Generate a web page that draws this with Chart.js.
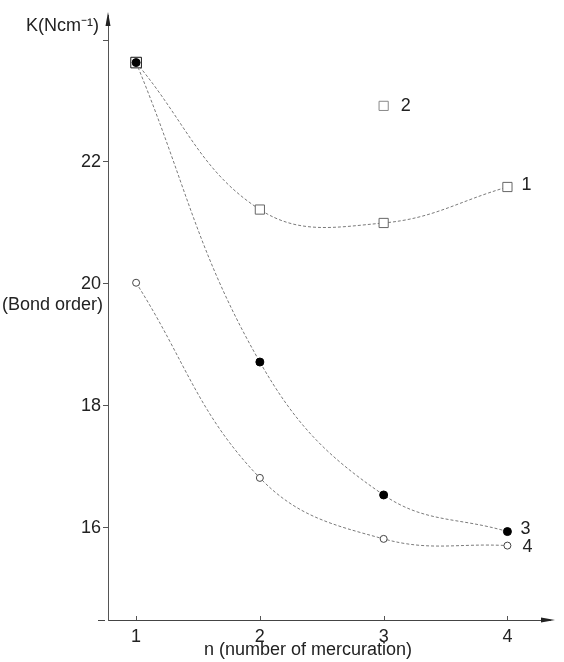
<!DOCTYPE html>
<html>
<head>
<meta charset="utf-8">
<script src="https://cdn.jsdelivr.net/npm/chart.js@4.4.0/dist/chart.umd.min.js"></script>
<style>
  html, body { margin: 0; padding: 0; background: #fff; }
  #wrap { width: 564px; height: 662px; position: relative; }
</style>
</head>
<body>
<div id="wrap"><canvas id="chart"></canvas></div>
<script>
// n (number of mercuration)
const nValues = [1, 2, 3, 4];
// K (N cm-1)
const curve1 = [23.63, 21.22, 21.0, 21.59];
const curve2 = [null, null, 22.92, null];
const curve3 = [23.63, 18.72, 16.54, 15.94];
const curve4 = [20.02, 16.82, 15.82, 15.71];
const curveNames = ['1', '2', '3', '4'];

const xTicks = [1, 2, 3, 4];
const yTicks = [16, 18, 20, 22, 24];
const yTickLabels = ['16', '18', '20', '22', ''];

const ink = '#222';
const lineGrey = '#7a7a7a';
const font = {family: "'Liberation Sans', Arial, sans-serif", size: 18};

function pts(values) {
    return nValues.map((n, i) => ({x: n, y: values[i]})).filter(p => p.y !== null);
}

const labelOffsets = [[14, -2], [17, 0], [13, -3], [15, 1]];

const decorations = {
    id: 'decorations',
    afterDatasetsDraw(chart) {
        const ctx = chart.ctx;
        const xs = chart.scales.x, ys = chart.scales.y;
        const area = chart.chartArea;
        const axisX = area.left;
        const axisY = ys.getPixelForValue(14.49);
        ctx.save();
        ctx.fillStyle = ink;
        ctx.strokeStyle = '#444';
        ctx.lineWidth = 1;
        // n axis runs a little past the K axis on the left
        ctx.setLineDash([7, 3]);
        ctx.beginPath();
        ctx.moveTo(axisX - 10, Math.round(axisY) + 0.5);
        ctx.lineTo(axisX, Math.round(axisY) + 0.5);
        ctx.stroke();
        ctx.setLineDash([]);

        // arrow heads
        ctx.beginPath();
        ctx.moveTo(axisX, area.top - 3);
        ctx.lineTo(axisX - 2.5, area.top + 11);
        ctx.lineTo(axisX + 2.5, area.top + 11);
        ctx.closePath();
        ctx.fill();
        ctx.beginPath();
        ctx.moveTo(area.right + 5, axisY);
        ctx.lineTo(area.right - 9, axisY - 2.5);
        ctx.lineTo(area.right - 9, axisY + 2.5);
        ctx.closePath();
        ctx.fill();

        // small upward tick marks on the n axis
        ctx.strokeStyle = '#555';
        xTicks.forEach(v => {
            const px = Math.round(xs.getPixelForValue(v)) + 0.5;
            ctx.beginPath();
            ctx.moveTo(px, axisY);
            ctx.lineTo(px, axisY - 4);
            ctx.stroke();
        });

        // curve numbers at the last point of each set
        ctx.font = "18px 'Liberation Sans', Arial, sans-serif";
        ctx.textBaseline = 'middle';
        ctx.textAlign = 'left';
        chart.data.datasets.forEach((ds, i) => {
            const meta = chart.getDatasetMeta(i);
            const last = meta.data[meta.data.length - 1];
            const off = labelOffsets[ds.curveIndex];
            ctx.fillText(curveNames[ds.curveIndex], last.x + off[0], last.y + off[1]);
        });

        // axis titles
        ctx.textAlign = 'right';
        ctx.fillText('K(Ncm\u207B\u00B9)', 99, 26);
        ctx.textAlign = 'left';
        ctx.fillText('(Bond order)', 2, 305);
        ctx.textAlign = 'center';
        ctx.fillText('n (number of mercuration)', 308, 650);
        ctx.restore();
    }
};

const ctx = document.getElementById('chart');
new Chart(ctx, {
    type: 'line',
    data: {
        datasets: [
            {
                curveIndex: 2,
                data: pts(curve3),
                order: 0,
                borderColor: lineGrey,
                borderWidth: 1,
                borderDash: [3, 2],
                tension: 0.4,
                pointStyle: 'circle',
                pointRadius: 4,
                pointBackgroundColor: '#000',
                pointBorderColor: '#000'
            },
            {
                curveIndex: 0,
                data: pts(curve1),
                order: 1,
                borderColor: lineGrey,
                borderWidth: 1,
                borderDash: [3, 2],
                tension: 0.4,
                pointStyle: 'rect',
                pointRadius: [7.5, 6.5, 6.5, 6.5],
                pointBackgroundColor: '#fff',
                pointBorderColor: ['#111', '#666', '#666', '#666'],
                pointBorderWidth: 1
            },
            {
                curveIndex: 1,
                data: pts(curve2),
                order: 2,
                showLine: false,
                pointStyle: 'rect',
                pointRadius: 6.5,
                pointBackgroundColor: '#fff',
                pointBorderColor: '#888',
                pointBorderWidth: 1
            },
            {
                curveIndex: 3,
                data: pts(curve4),
                order: 3,
                borderColor: lineGrey,
                borderWidth: 1,
                borderDash: [3, 2],
                tension: 0.4,
                pointStyle: 'circle',
                pointRadius: 3.5,
                pointBackgroundColor: '#fff',
                pointBorderColor: '#444',
                pointBorderWidth: 1
            }
        ]
    },
    options: {
        responsive: true,
        maintainAspectRatio: false,
        devicePixelRatio: 1,
        animation: false,
        layout: {
            padding: {left: 68, right: 14, top: 15, bottom: 42}
        },
        plugins: {
            legend: {display: false},
            tooltip: {enabled: false}
        },
        scales: {
            x: {
                type: 'linear',
                min: 0.773,
                max: 4.344,
                position: {y: 14.49},
                afterBuildTicks: s => { s.ticks = xTicks.map(v => ({value: v})); },
                grid: {drawOnChartArea: false, drawTicks: false, tickLength: 4},
                border: {color: '#444', width: 1, dash: [7, 3]},
                ticks: {
                    autoSkip: false,
                    padding: 6,
                    color: ink,
                    font: font,
                    maxRotation: 0
                }
            },
            y: {
                type: 'linear',
                min: 14.49,
                max: 24.41,
                position: 'left',
                afterBuildTicks: s => { s.ticks = yTicks.map(v => ({value: v})); },
                afterFit: s => { s.width = 40; },
                grid: {drawOnChartArea: false, tickLength: 5, color: '#555'},
                border: {color: '#555', width: 1, dash: [2, 3]},
                ticks: {
                    autoSkip: false,
                    padding: 2,
                    color: ink,
                    font: font,
                    callback: (v, i) => yTickLabels[i]
                }
            }
        }
    },
    plugins: [decorations]
});
</script>
</body>
</html>
